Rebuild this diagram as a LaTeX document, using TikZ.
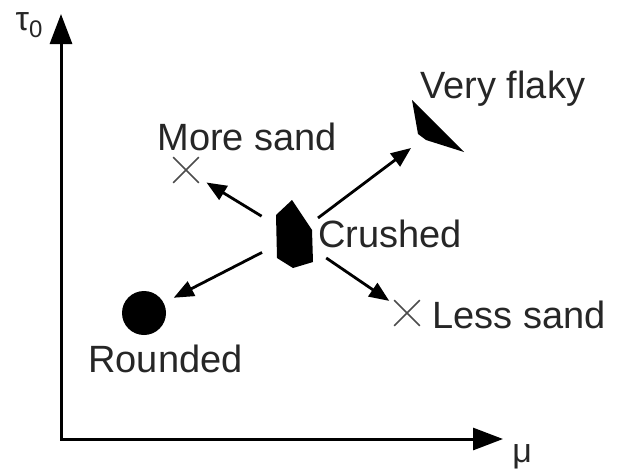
\documentclass[tikz,border=0pt]{standalone}
\usepackage{fontspec}
\setmainfont{Liberation Sans}
\usetikzlibrary{arrows.meta, shapes.misc}

\begin{document}
\begin{tikzpicture}[
    x=0.5pt, y=-0.5pt,
    lbl/.style={font=\fontsize{19}{22}\selectfont, text=black!85, inner sep=0pt},
    axlbl/.style={font=\fontsize{17}{20}\selectfont, text=black!85, inner sep=0pt},
    arrow/.style={-{Triangle[length=10pt, width=8pt]}, line width=1.4pt},
    axis/.style={{Triangle[length=15pt, width=11pt]}-{Triangle[length=15pt, width=11pt]}, line width=1.5pt},
    sandmark/.style={cross out, draw=black!70, line width=0.8pt, minimum size=12pt, inner sep=0pt},
    grain/.style={fill=black, draw=none}
]
\useasboundingbox (0,0) rectangle (619,471);

% axes
\coordinate (origin) at (61,439);
\coordinate (ytip)   at (61,14);
\coordinate (xtip)   at (503,439);
\draw[axis] (ytip) -- (origin) -- (xtip);
\node[axlbl] (tau) at (29,25) {τ\raisebox{-0.35ex}{\fontsize{12}{12}\selectfont 0}};
\node[axlbl, anchor=base west] (mu) at (512,462) {μ};

% grain shapes
\coordinate (crushed) at (294,236);
\path[grain] (292,200) -- (312,230) -- (313,262) -- (293,268) -- (277,258) -- (276,215) -- cycle;
\coordinate (flaky) at (435,130);
\path[grain] (412,100) -- (464,152) -- (426,140) -- (418,134) -- cycle;
\node[circle, grain, minimum size=22pt, inner sep=0pt] (rounded) at (144,313) {};
\node[sandmark] (moresand) at (186,170) {};
\node[sandmark] (lesssand) at (407,313) {};

\draw[arrow, shorten <=15pt,   shorten >=15pt]  (crushed) -- (flaky);
\draw[arrow, shorten <=19pt,   shorten >=4.5pt] (crushed) -- (moresand);
\draw[arrow, shorten <=18pt,   shorten >=5.5pt] (crushed) -- (rounded);
\draw[arrow, shorten <=19.5pt, shorten >=3pt]   (crushed) -- (lesssand);

% labels
\node[lbl, anchor=base west] (morelbl)    at (157,150) {More sand};
\node[lbl, anchor=base west] (crushedlbl) at (318,247) {Crushed};
\node[lbl, anchor=base west] (flakylbl)   at (420,98)  {Very flaky};
\node[lbl, anchor=base west] (lesslbl)    at (432,328) {Less sand};
\node[lbl, anchor=base east] (roundlbl)   at (243,372) {Rounded};

\end{tikzpicture}
\end{document}
